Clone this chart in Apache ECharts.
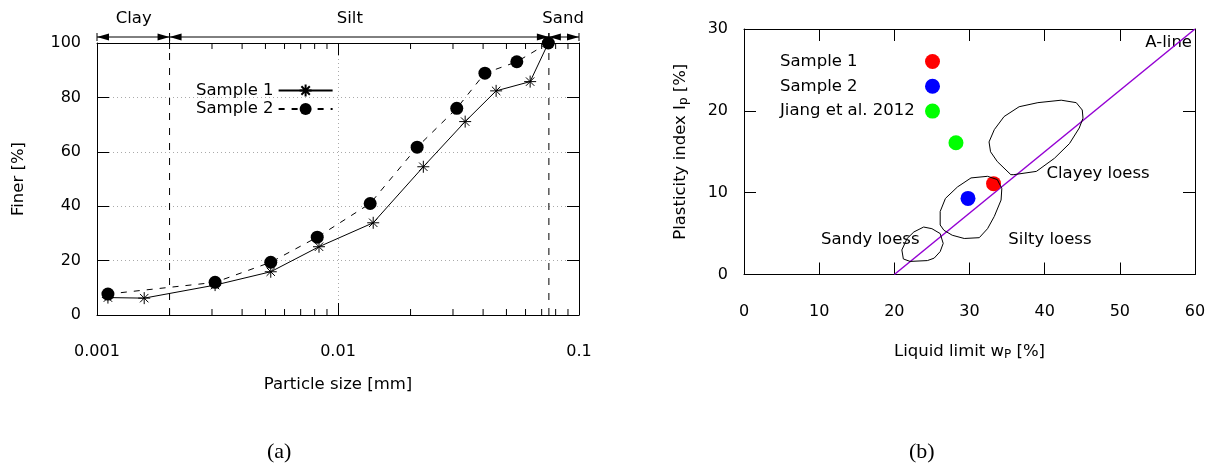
<!DOCTYPE html>
<html><head><meta charset="utf-8">
<script src="https://cdn.jsdelivr.net/npm/echarts@6/dist/echarts.min.js"></script>
<style>html,body{margin:0;padding:0;background:#fff}#c{width:1217px;height:469px}</style>
</head><body><div id="c"></div>
<script>
// ---------- (a) grain size distribution ----------
const sample1Size  = [0.00111, 0.00157, 0.00309, 0.00526, 0.00834, 0.0140, 0.0226, 0.0337, 0.0453, 0.0627, 0.0746];
const sample1Finer = [6.4, 6.2, 11.0, 15.9, 25.1, 33.9, 54.5, 71.1, 82.4, 85.8, 100];
const sample2Size  = [0.00111, 0.00309, 0.00526, 0.0082, 0.0136, 0.0213, 0.0311, 0.0407, 0.0552, 0.0746];
const sample2Finer = [7.7, 12.0, 19.4, 28.6, 41.0, 61.7, 76.0, 88.9, 93.1, 100];
const fractionNames   = ['Clay', 'Silt', 'Sand'];
const fractionFrom    = [0.001, 0.002, 0.075];
const fractionTo      = [0.002, 0.075, 0.1];
const fractionLabelAt = [0.00142, 0.0112, 0.0859];
const boundaries = [0.002, 0.075];
const minorSizeTicks = [0.002, 0.003, 0.004, 0.005, 0.006, 0.007, 0.008, 0.009,
                        0.02, 0.03, 0.04, 0.05, 0.06, 0.07, 0.08, 0.09];

// ---------- (b) plasticity chart ----------
const pointNames = ['Sample 1', 'Sample 2', 'Jiang et al. 2012'];
const liquidLimit = [33.2, 29.8, 28.2];
const plasticityIndex = [11.1, 9.3, 16.1];
const aLineLL = [20, 60];
const aLinePI = [0, 30];
const clayeyLL = [35.5, 33.7, 32.8, 32.6, 33.3, 34.6, 36.6, 39.1, 42.2, 44.2, 45.0, 45.1, 44.6, 43.3, 41.3, 38.9, 35.9, 35.5];
const clayeyPI = [12.2, 13.8, 15.0, 16.2, 17.7, 19.3, 20.5, 21.0, 21.3, 21.0, 20.1, 19.1, 17.9, 16.0, 14.2, 12.6, 12.2, 12.2];
const siltyLL = [26.1, 26.1, 26.8, 28.4, 30.2, 32.4, 33.7, 34.3, 34.2, 33.3, 32.4, 31.3, 29.3, 27.7, 26.6, 26.1];
const siltyPI = [6.05, 7.7, 9.3, 10.7, 11.8, 12.0, 11.6, 10.5, 9.1, 7.1, 5.6, 4.5, 4.4, 4.8, 5.4, 6.05];
const sandyLL = [23.9, 25.0, 26.1, 26.5, 26.1, 25.3, 24.4, 22.1, 21.2, 21.0, 21.7, 22.6, 23.9];
const sandyPI = [5.8, 5.6, 5.0, 3.8, 2.8, 2.0, 1.7, 1.6, 1.9, 3.0, 4.4, 5.2, 5.8];
const zoneLabels  = ['Clayey loess', 'Sandy loess', 'Silty loess', 'A-line'];
const zoneLabelLL = [47.1, 16.8, 40.7, 56.5];
const zoneLabelPI = [12.3, 4.2, 4.2, 28.3];
const captions = ['(a)', '(b)'];

const FONT = 'DejaVu Sans';
const FS = 16.5;   // text
const TS = 16;     // tick numbers
const zip = (a, b) => a.map((v, i) => [v, b[i]]);
const starPath = 'path://M0,5L10,5M5,0L5,10M1.5,1.5L8.5,8.5M8.5,1.5L1.5,8.5';

const chart = echarts.init(document.getElementById('c'), null, {renderer: 'canvas'});

const tickStyle = {show: true, inside: true, length: 12, lineStyle: {color: '#000', width: 1}};
const lineAx = {show: true, onZero: false, lineStyle: {color: '#000', width: 1}};
const lbl = {color: '#000', fontSize: TS, fontFamily: FONT};
const nameStyle = {fontSize: FS, fontFamily: FONT, color: '#000'};
const subRich = {s: {fontSize: 12, fontFamily: FONT, color: '#000', verticalAlign: 'bottom', padding: [6, 0, 0, 0]}};

const option = {
  animation: false,
  textStyle: {fontFamily: FONT, color: '#000'},
  title: [
    {text: captions[0], left: 262, top: 436, textStyle: {fontFamily: 'Liberation Serif', fontWeight: 'normal', fontSize: 22, color: '#000'}},
    {text: captions[1], left: 904, top: 436, textStyle: {fontFamily: 'Liberation Serif', fontWeight: 'normal', fontSize: 22, color: '#000'}}
  ],
  grid: [
    {left: 97, right: 638, top: 43, bottom: 154},
    {left: 744, right: 22, top: 29, bottom: 194.5}
  ],
  legend: [
    {
      data: ['Sample 1', 'Sample 2'], orient: 'vertical', align: 'right',
      left: 191, top: 77, itemWidth: 54, itemHeight: 15, itemGap: 1.5, selectedMode: false,
      textStyle: {fontSize: FS, fontFamily: FONT, color: '#000'}
    },
    {
      data: pointNames.map(n => n + ' '), orient: 'vertical', align: 'right',
      left: 775, top: 48, itemWidth: 15, itemHeight: 15, itemGap: 7.8, selectedMode: false,
      formatter: n => '{t|' + n.trim() + '}',
      textStyle: {rich: {t: {width: 140, align: 'left', fontSize: FS, fontFamily: FONT, color: '#000'}}}
    }
  ],
  xAxis: [
    {gridIndex: 0, type: 'log', logBase: 10, min: 0.001, max: 0.1, position: 'bottom',
     axisLine: lineAx, axisTick: tickStyle,
     axisLabel: Object.assign({margin: 29, formatter: v => String(+(+v).toPrecision(4))}, lbl),
     splitLine: {show: true, lineStyle: {color: '#aaa', type: [1, 3], width: 1}},
     name: 'Particle size [mm]', nameLocation: 'middle', nameGap: 61, nameTextStyle: nameStyle},
    {gridIndex: 0, type: 'log', logBase: 10, min: 0.001, max: 0.1, position: 'top',
     axisLine: lineAx, axisTick: tickStyle, axisLabel: {show: false}, splitLine: {show: false}},
    {gridIndex: 1, type: 'value', min: 0, max: 60, interval: 10, position: 'bottom',
     axisLine: lineAx, axisTick: tickStyle, axisLabel: Object.assign({margin: 29}, lbl),
     splitLine: {show: false},
     name: 'Liquid limit w{s|P} [%]', nameLocation: 'middle', nameGap: 68,
     nameTextStyle: Object.assign({rich: subRich}, nameStyle)},
    {gridIndex: 1, type: 'value', min: 0, max: 60, interval: 10, position: 'top',
     axisLine: lineAx, axisTick: tickStyle, axisLabel: {show: false}, splitLine: {show: false}}
  ],
  yAxis: [
    {gridIndex: 0, type: 'value', min: 0, max: 100, interval: 20, position: 'left',
     axisLine: lineAx, axisTick: tickStyle, axisLabel: Object.assign({margin: 16}, lbl),
     splitLine: {show: true, lineStyle: {color: '#aaa', type: [1, 3], width: 1}},
     name: 'Finer [%]', nameLocation: 'middle', nameGap: 70, nameTextStyle: nameStyle},
    {gridIndex: 0, type: 'value', min: 0, max: 100, interval: 20, position: 'right',
     axisLine: lineAx, axisTick: tickStyle, axisLabel: {show: false}, splitLine: {show: false}},
    {gridIndex: 1, type: 'value', min: 0, max: 30, interval: 10, position: 'left',
     axisLine: lineAx, axisTick: tickStyle, axisLabel: Object.assign({margin: 16}, lbl),
     splitLine: {show: false},
     name: 'Plasticity index I{s|p} [%]', nameLocation: 'middle', nameGap: 54,
     nameTextStyle: Object.assign({rich: subRich}, nameStyle)},
    {gridIndex: 1, type: 'value', min: 0, max: 30, interval: 10, position: 'right',
     axisLine: lineAx, axisTick: tickStyle, axisLabel: {show: false}, splitLine: {show: false}}
  ],
  series: [
    // fraction boundaries (dashed verticals)
    {name: 'boundaries', type: 'custom', xAxisIndex: 0, yAxisIndex: 0, silent: true, clip: false,
     data: boundaries.map(b => [b, 0]),
     renderItem: (params, api) => {
       const b = api.coord([api.value(0), 0]);
       const t = api.coord([api.value(0), 100]);
       return {type: 'line', shape: {x1: b[0], y1: b[1], x2: t[0], y2: t[1] - 6},
               style: {stroke: '#000', lineWidth: 1, lineDash: [7, 8]}};
     }},
    {name: 'Sample 1', type: 'line', xAxisIndex: 0, yAxisIndex: 0,
     data: zip(sample1Size, sample1Finer),
     symbol: starPath, symbolSize: 12, showAllSymbol: true,
     itemStyle: {color: '#000', borderColor: '#000', borderWidth: 1},
     lineStyle: {color: '#000', width: 1, type: 'solid'}, z: 4},
    {name: 'Sample 2', type: 'line', xAxisIndex: 0, yAxisIndex: 0,
     data: zip(sample2Size, sample2Finer),
     symbol: 'circle', symbolSize: 13, showAllSymbol: true,
     itemStyle: {color: '#000', borderWidth: 0},
     lineStyle: {color: '#000', width: 1, type: [6, 7]}, z: 3},
    // minor log ticks
    {name: 'minor ticks', type: 'custom', xAxisIndex: 0, yAxisIndex: 0, silent: true, clip: false,
     data: minorSizeTicks.map(v => [v, 0]),
     renderItem: (params, api) => {
       const b = api.coord([api.value(0), 0]);
       const t = api.coord([api.value(0), 100]);
       const st = {stroke: '#000', lineWidth: 1};
       return {type: 'group', children: [
         {type: 'line', shape: {x1: b[0], y1: b[1], x2: b[0], y2: b[1] - 6}, style: st},
         {type: 'line', shape: {x1: t[0], y1: t[1], x2: t[0], y2: t[1] + 6}, style: st}
       ]};
     }},
    // fraction band above plot
    {name: 'fractions', type: 'custom', xAxisIndex: 0, yAxisIndex: 0, silent: true, clip: false,
     data: fractionNames.map((n, i) => [fractionFrom[i], fractionTo[i], fractionLabelAt[i]]),
     renderItem: (params, api) => {
       const p0 = api.coord([api.value(0), 100]);
       const p1 = api.coord([api.value(1), 100]);
       const pl = api.coord([api.value(2), 100]);
       const y = p0[1] - 6;
       const ah = 12, aw = 3.5;
       const st = {stroke: '#000', lineWidth: 1};
       return {type: 'group', children: [
         {type: 'line', shape: {x1: p0[0], y1: y, x2: p1[0], y2: y}, style: st},
         {type: 'line', shape: {x1: p0[0], y1: y - 4, x2: p0[0], y2: y + 4}, style: st},
         {type: 'line', shape: {x1: p1[0], y1: y - 4, x2: p1[0], y2: y + 4}, style: st},
         {type: 'polygon', shape: {points: [[p0[0], y], [p0[0] + ah, y - aw], [p0[0] + ah, y + aw]]}, style: {fill: '#000'}},
         {type: 'polygon', shape: {points: [[p1[0], y], [p1[0] - ah, y - aw], [p1[0] - ah, y + aw]]}, style: {fill: '#000'}},
         {type: 'text', style: {text: fractionNames[params.dataIndex], x: pl[0], y: y - 18,
           align: 'center', verticalAlign: 'middle', fontSize: FS, fontFamily: FONT, fill: '#000'}}
       ]};
     }},
    // ---------- (b) ----------
    {name: 'A-line', type: 'line', xAxisIndex: 2, yAxisIndex: 2, data: zip(aLineLL, aLinePI),
     symbol: 'none', silent: true, lineStyle: {color: '#9400d3', width: 1.5}, z: 3},
    {name: 'clayey', type: 'line', xAxisIndex: 2, yAxisIndex: 2, data: zip(clayeyLL, clayeyPI),
     symbol: 'none', silent: true, lineStyle: {color: '#000', width: 1}, z: 4},
    {name: 'silty', type: 'line', xAxisIndex: 2, yAxisIndex: 2, data: zip(siltyLL, siltyPI),
     symbol: 'none', silent: true, lineStyle: {color: '#000', width: 1}, z: 4},
    {name: 'sandy', type: 'line', xAxisIndex: 2, yAxisIndex: 2, data: zip(sandyLL, sandyPI),
     symbol: 'none', silent: true, lineStyle: {color: '#000', width: 1}, z: 4},
    {name: 'zone labels', type: 'custom', xAxisIndex: 2, yAxisIndex: 2, silent: true, clip: false,
     data: zoneLabels.map((n, i) => [zoneLabelLL[i], zoneLabelPI[i]]),
     renderItem: (params, api) => {
       const p = api.coord([api.value(0), api.value(1)]);
       return {type: 'text', style: {text: zoneLabels[params.dataIndex], x: p[0], y: p[1],
         align: 'center', verticalAlign: 'middle', fontSize: FS, fontFamily: FONT, fill: '#000'}};
     }}
  ].concat(pointNames.map((n, i) => ({
    name: n + ' ', type: 'scatter', xAxisIndex: 2, yAxisIndex: 2, symbolSize: 15, z: 3,
    itemStyle: {color: ['#ff0000', '#0000ff', '#00ff00'][i], opacity: 1},
    data: [[liquidLimit[i], plasticityIndex[i]]]
  })))
};
chart.setOption(option);
</script></body></html>
